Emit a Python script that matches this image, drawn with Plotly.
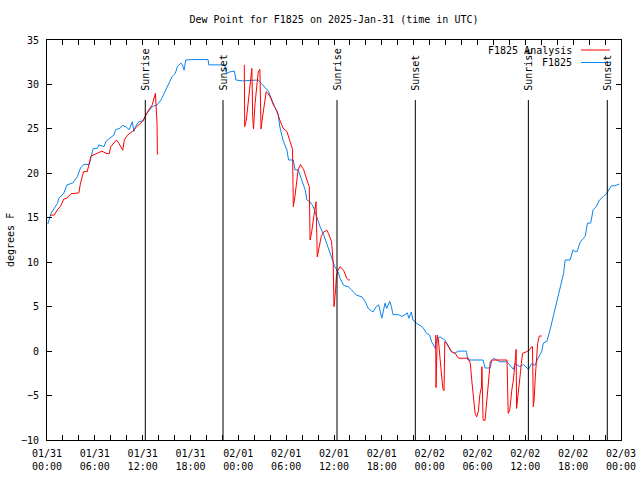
import pandas as pd
import plotly.graph_objects as go

# ---------------- data ----------------
start_time = "2025-01-31 00:00"
end_hours = 72

# F1825 observations (hours since 01/31 00:00 UTC, dew point degF)
obs_hours = [0.1, 0.5, 1.3, 1.5, 2.1, 2.5, 3.2, 3.8, 4.2, 4.6, 5.3, 5.5, 5.8, 6.3, 6.5, 7.15, 7.4, 7.8,
             8.4, 8.6, 9.2, 9.45, 9.9, 10.3, 10.7, 10.9, 11.1, 11.5, 12.1, 12.4, 12.8, 13.2, 13.8, 14.3,
             14.7, 15.3, 15.7, 16.1, 16.35, 16.8, 17.0, 17.2, 17.4, 18.4, 20.2, 20.3, 21.9, 22.3, 22.5,
             22.9, 23.5, 23.7, 24.5, 26.5, 26.9, 27.3, 27.8, 28.2, 28.6, 29.0, 29.2, 29.6, 30.1, 30.3,
             30.9, 31.1, 31.5, 31.95, 32.4, 32.6, 33.0, 33.4, 33.8, 34.25, 34.7, 35.1, 35.7, 36.1, 36.5,
             36.75, 37.2, 37.8, 38.2, 38.8, 39.5, 39.9, 40.3, 40.9, 41.3, 41.6, 42.0, 42.4, 42.6, 43.0,
             43.2, 43.4, 44.1, 44.5, 44.9, 45.2, 45.4, 45.7, 45.9, 46.4, 46.8, 47.2, 47.6, 48.0, 48.25,
             48.7, 48.9, 49.3, 49.9, 50.3, 50.75, 51.1, 51.6, 52.6, 52.8, 54.7, 54.95, 55.6, 55.8, 56.0,
             56.4, 56.8, 57.7, 58.1, 58.5, 58.7, 59.3, 59.75, 60.4, 60.8, 61.2, 61.6, 62.05, 62.25, 62.7,
             63.1, 63.5, 63.9, 64.3, 64.6, 64.8, 65.0, 65.6, 66.0, 66.2, 66.5, 66.9, 67.5, 67.8, 68.2,
             68.5, 68.9, 69.3, 69.8, 70.2, 70.8, 71.2, 71.8]
obs_values = [14.3, 15.5, 16.6, 17.2, 17.75, 18.7, 18.9, 19.6, 20.6, 21.0, 21.0, 21.7, 22.8, 22.8, 23.2,
              23.0, 23.6, 23.9, 24.3, 24.9, 25.1, 25.4, 25.25, 24.9, 25.8, 24.7, 25.25, 25.8, 25.9, 26.6,
              27.1, 27.5, 27.7, 28.25, 29.0, 30.1, 30.9, 31.25, 32.0, 32.4, 32.2, 31.6, 32.75, 32.8, 32.8,
              32.2, 32.2, 32.2, 31.25, 31.4, 31.5, 30.5, 30.4, 30.5, 30.1, 29.75, 29.2, 28.25, 27.5, 26.6,
              25.25, 23.75, 22.6, 21.5, 21.5, 20.4, 20.4, 19.25, 18.1, 17.0, 16.8, 16.25, 15.1, 14.0, 13.1,
              12.1, 10.6, 9.5, 8.9, 8.2, 7.4, 7.25, 6.9, 6.3, 6.1, 5.6, 4.8, 4.4, 5.0, 5.2, 3.7, 5.4, 4.8,
              5.6, 5.0, 4.1, 4.1, 3.9, 4.1, 4.3, 3.7, 4.4, 3.5, 3.1, 2.9, 2.6, 2.0, 1.8, 1.05, 0.3, 1.4,
              1.6, 1.25, 0.7, -0.05, -0.25, 0.0, 0.0, -1.0, -1.0, -1.9, -1.9, -1.0, -0.8, -1.0, -1.2, -1.2,
              -1.6, -2.05, -1.4, -1.75, -1.5, -2.05, -1.4, -1.6, -0.8, -0.05, 0.9, 1.1, 2.4, 3.9, 5.4, 6.9,
              7.8, 8.75, 10.25, 10.25, 11.4, 11.2, 11.2, 12.3, 12.9, 14.4, 14.4, 15.9, 16.25, 17.0, 17.4,
              17.75, 18.6, 18.6, 18.8]

# F1825 Analysis (None = gap)
ana_hours = [0.45, 0.9, 1.3, 1.7, 2.1, 2.5, 3.0, 3.6, 4.0, 4.2, 4.6, 5.05, 5.3, 5.5, 5.9, 6.9, 7.4, 7.8,
             8.0, 8.4, 8.7, 9.0, 9.5, 9.7, 10.1, 10.7, 11.3, 11.95, 12.4, 12.8, 13.2, 13.6, 13.8, 13.85,
             19.0,
             24.75, 24.8, 25.0, 25.25, 25.5, 25.7, 25.8, 25.9, 26.1, 26.3, 26.5, 26.7, 26.85, 27.1, 27.3,
             27.5, 27.7, 28.0, 28.4, 28.8, 29.2, 29.6, 30.1, 30.5, 30.8, 30.85, 30.9, 31.1, 31.3, 31.5,
             31.8, 32.2, 32.6, 32.9, 33.0, 33.2, 33.4, 33.75, 33.9, 34.1, 34.4, 34.7, 35.1, 35.3, 35.7,
             35.9, 36.0, 36.2, 36.3, 36.5, 36.75, 37.2, 37.6, 37.8, 38.0,
             43.0,
             48.75, 48.8, 48.95, 49.1, 49.3, 49.5, 49.65, 49.8, 49.9, 50.1, 50.5, 50.7, 51.2, 51.6, 52.85,
             53.1, 53.3, 53.5, 53.7, 53.9, 54.1, 54.3, 54.5, 54.55, 54.7, 54.95, 55.1, 55.3, 55.45, 55.6,
             55.8, 57.45, 57.7, 57.85, 58.05, 58.3, 58.5, 58.7, 58.85, 58.9, 59.1, 59.3, 59.4, 59.5,
             59.65, 60.2, 60.6, 60.8, 60.9, 61.0, 61.1, 61.25, 61.4, 61.55, 61.75, 62.05]
ana_values = [15.3, 15.3, 15.9, 16.3, 17.1, 17.2, 17.7, 17.75, 17.8, 18.9, 20.2, 20.2, 21.1, 21.9, 22.1,
              22.5, 22.25, 22.2, 23.0, 23.4, 23.75, 23.4, 22.6, 23.75, 24.3, 24.7, 25.3, 25.8, 26.6, 27.2,
              27.7, 29.0, 25.6, 22.1,
              None,
              32.2, 25.25, 26.0, 28.1, 30.1, 31.8, 26.4, 25.0, 27.9, 29.4, 31.4, 31.7, 25.0, 26.75, 28.25,
              29.2, 29.0, 28.6, 27.7, 27.1, 26.0, 25.1, 24.7, 23.6, 22.7, 19.25, 16.25, 17.4, 18.9, 20.4,
              21.0, 20.4, 19.25, 18.5, 12.5, 13.4, 14.75, 16.8, 10.6, 11.6, 12.9, 13.4, 13.6, 13.25, 12.3,
              9.9, 5.0, 6.9, 8.4, 9.1, 9.5, 9.1, 8.2, 8.0, 8.0,
              None,
              1.8, -4.1, 1.8, 1.25, -0.8, -2.9, -4.2, -4.45, 1.05, 0.9, 0.3, -0.05, -0.25, -0.8, -0.8,
              -1.4, -3.45, -5.5, -7.0, -7.4, -6.8, -4.9, -4.0, -1.75, -7.75, -7.8, -6.25, -4.9, -2.9, -1.2,
              -1.0, -1.0, -1.0, -7.0, -6.6, -4.4, -3.25, -1.4, 0.2, -6.45, -4.4, -3.25, -2.3, -1.4,
              -0.25, -0.05, 0.2, 0.5, 0.5, -6.25, -5.5, -2.9, -1.4, 0.9, 1.7, 1.7]

sun_event_names = ["Sunrise", "Sunset", "Sunrise", "Sunset", "Sunrise", "Sunset"]
sun_event_hours = [12.33, 22.08, 36.38, 46.2, 60.38, 70.28]

x_tick_labels = ["01/31<br>00:00", "01/31<br>06:00", "01/31<br>12:00", "01/31<br>18:00",
                 "02/01<br>00:00", "02/01<br>06:00", "02/01<br>12:00", "02/01<br>18:00",
                 "02/02<br>00:00", "02/02<br>06:00", "02/02<br>12:00", "02/02<br>18:00",
                 "02/03<br>00:00"]
y_ticks = [-10, -5, 0, 5, 10, 15, 20, 25, 30, 35]

title_text = "Dew Point for F1825 on 2025-Jan-31 (time in UTC)"
y_title = "degrees F"
legend_names = ["F1825 Analysis", "F1825"]
colors = ["#ff0000", "#0a84f0"]

# ---------------- build ----------------
base = pd.Timestamp(start_time)


def to_time(hours):
    return [base + pd.Timedelta(hours=h) for h in hours]


FONT = "DejaVu Sans Mono"

fig = go.Figure()
fig.add_trace(go.Scatter(x=to_time(obs_hours), y=obs_values, mode="lines",
                         line=dict(color=colors[1], width=1), name=legend_names[1],
                         showlegend=False, hoverinfo="skip"))
fig.add_trace(go.Scatter(x=to_time(ana_hours), y=ana_values, mode="lines", connectgaps=False,
                         line=dict(color=colors[0], width=1), name=legend_names[0],
                         showlegend=False, hoverinfo="skip"))

# ticks every 2 h, labels every 6 h
tick_hours = list(range(0, end_hours + 1, 2))
tick_text = [x_tick_labels[h // 6] if h % 6 == 0 else "" for h in tick_hours]

shapes = []
annotations = []
for name, h in zip(sun_event_names, sun_event_hours):
    tx = base + pd.Timedelta(hours=h)
    shapes.append(dict(type="line", xref="x", yref="y", x0=tx, x1=tx, y0=-10, y1=28.25,
                       line=dict(color="black", width=1)))
    annotations.append(dict(x=tx, y=29.1, xref="x", yref="y", text=name, textangle=-90,
                            showarrow=False, xanchor="center", yanchor="bottom",
                            font=dict(family=FONT, size=10, color="black")))

# legend (gnuplot style: text then sample line)
W, H = 574.0, 400.0
for i, (name, col) in enumerate(zip(legend_names, colors)):
    py = 50 + i * 12.5
    yp = (440 - py) / H
    annotations.append(dict(x=(574 - 47) / W, y=yp, xref="paper", yref="paper", text=name,
                            showarrow=False, xanchor="right", yanchor="middle",
                            font=dict(family=FONT, size=10, color="black")))
    shapes.append(dict(type="line", xref="paper", yref="paper", x0=(581 - 47) / W, x1=(610 - 47) / W,
                       y0=yp, y1=yp, line=dict(color=col, width=1)))

annotations.append(dict(x=(10 - 47) / W, y=0.5, xref="paper", yref="paper", text=y_title,
                        textangle=-90, showarrow=False, xanchor="center", yanchor="middle",
                        font=dict(family=FONT, size=10, color="black")))

fig.update_layout(
    width=640, height=480,
    margin=dict(l=47, r=19, t=40, b=40),
    paper_bgcolor="white", plot_bgcolor="white",
    title=dict(text=title_text, x=0.5, xref="paper", y=1 - 19 / 480, yref="container",
               xanchor="center", yanchor="middle",
               font=dict(family=FONT, size=10, color="black")),
    font=dict(family=FONT, size=10, color="black"),
    shapes=shapes, annotations=annotations, showlegend=False,
)
fig.update_xaxes(type="date", range=[base, base + pd.Timedelta(hours=end_hours)],
                 tickvals=to_time(tick_hours), ticktext=tick_text,
                 ticks="inside", ticklen=5, tickcolor="black", tickwidth=1,
                 showline=True, linecolor="black", linewidth=1, mirror="allticks",
                 showgrid=False, zeroline=False, automargin=False, ticklabelstandoff=4,
                 tickfont=dict(family=FONT, size=10, color="black"))
fig.update_yaxes(range=[-10, 35], tickvals=y_ticks,
                 ticks="inside", ticklen=5, tickcolor="black", tickwidth=1,
                 showline=True, linecolor="black", linewidth=1, mirror="allticks",
                 showgrid=False, zeroline=False, automargin=False, ticklabelstandoff=5,
                 tickfont=dict(family=FONT, size=10, color="black"))

fig.write_html("out.html", config={"displayModeBar": False, "staticPlot": True})

# remove the browser's default body margin so the 640x480 figure fills the window
with open("out.html", "r", encoding="utf-8") as f:
    html = f.read()
html = html.replace("<head>", "<head><style>html,body{margin:0;padding:0;overflow:hidden;}</style>", 1)
with open("out.html", "w", encoding="utf-8") as f:
    f.write(html)
